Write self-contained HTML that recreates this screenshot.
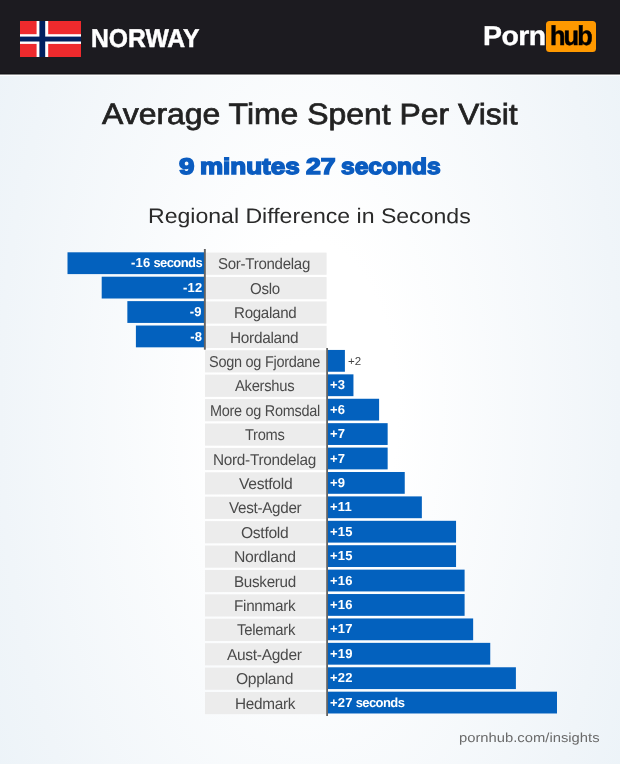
<!DOCTYPE html>
<html><head><meta charset="utf-8"><title>Norway - Average Time Spent Per Visit</title>
<style>
html,body{margin:0;padding:0;}
body{width:620px;height:764px;position:relative;overflow:hidden;font-family:"Liberation Sans",sans-serif;
background:radial-gradient(ellipse 310px 600px at 310px 410px, #ffffff 0%, #ffffff 28%, #f0f5f9 100%, #ecf3f8 120%);}
.flag{position:absolute;left:20px;top:21px;width:61px;height:36px;}
.country{position:absolute;transform-origin:0 50%;top:23px;font-weight:bold;font-size:25.8px;line-height:30px;color:#fff;white-space:nowrap;-webkit-text-stroke:0.5px #fff;}
.logo-a{position:absolute;transform-origin:0 50%;top:19.6px;font-weight:bold;font-size:27.2px;line-height:32px;color:#fff;white-space:nowrap;letter-spacing:-0.5px;-webkit-text-stroke:0.35px #fff;}
.logo-box{position:absolute;left:546.3px;top:20.8px;width:49.4px;height:31.6px;background:#ff9900;border-radius:3.5px;}
.logo-b{position:absolute;transform-origin:0 50%;top:19.6px;font-weight:bold;font-size:27.2px;line-height:32px;color:#000;white-space:nowrap;letter-spacing:-2px;-webkit-text-stroke:0.5px #000;}
.title{position:absolute;transform-origin:0 50%;top:98px;font-size:29.5px;line-height:32px;color:#222;white-space:nowrap;-webkit-text-stroke:0.7px #222;}
.subrow{position:absolute;left:0;top:0;width:620px;height:0;}
.sub{display:block;position:absolute;transform-origin:0 50%;top:153.2px;font-size:22.6px;line-height:28px;font-weight:bold;color:#0b5cc0;white-space:nowrap;-webkit-text-stroke:1.5px #0b5cc0;word-spacing:2px;}
.reg{position:absolute;transform-origin:0 50%;top:203px;font-size:21px;line-height:26px;color:#2a2a2a;white-space:nowrap;}
.lt{position:absolute;font-size:15.7px;line-height:24.8px;height:22px;color:#4a4a4a;white-space:nowrap;transform-origin:0 50%;letter-spacing:-0.3px;}
.shapes{position:absolute;left:0;top:0;}
.bt{position:absolute;transform:rotate(0.03deg);height:22px;color:#fff;font-weight:bold;font-size:13px;line-height:21.2px;white-space:nowrap;letter-spacing:0.25px;}
.bt .u{letter-spacing:-0.6px;}
.bt.neg{text-align:right;}
.bt.neg>span{padding-right:2.1px;}
.bt.neg .u{margin-right:0.7px;}
.bt.pos>span{padding-left:1.9px;}
.out{position:absolute;font-size:11.5px;line-height:23px;color:#444;}
.foot{position:absolute;transform-origin:0 50%;top:728.5px;font-size:13px;line-height:18px;color:#6a6a6a;white-space:nowrap;}
</style></head><body>
<svg class="shapes" width="620" height="80" viewBox="0 0 620 80"><rect width="620" height="74.6" fill="#1c1b20"/><rect y="73.4" width="620" height="1.2" fill="#121115"/><rect y="74.6" width="620" height="1.3" fill="#ffffff"/></svg>
<svg class="flag" viewBox="0 0 61 36"><rect width="61" height="36" fill="#ee2a2d"/><rect x="16.6" width="11.6" height="36" fill="#fff"/><rect y="13.2" width="61" height="9.7" fill="#fff"/><rect x="19.4" width="5.8" height="36" fill="#00205f"/><rect y="15.6" width="61" height="4.9" fill="#00205f"/></svg>
<div class="country" id="country" style="left:91.16px;transform:scaleX(0.9573) rotate(0.03deg)">NORWAY</div>
<div class="logo-a" id="logo-a" style="left:482.75px;transform:scaleX(1.0468) rotate(0.03deg)">Porn</div><div class="logo-box"></div><div class="logo-b" id="logo-b" style="left:549.99px;transform:scaleX(0.9330) rotate(0.03deg)">hub</div>
<div class="title" id="title" style="left:102.25px;transform:scaleX(1.0818) rotate(0.03deg)">Average Time Spent Per Visit</div>
<div class="subrow"><span class="sub" id="sub0" style="left:179.30px;transform:scaleX(1.2255) rotate(0.03deg)">9</span> <span class="sub" id="sub1" style="left:200.41px;transform:scaleX(1.1503) rotate(0.03deg)">minutes</span> <span class="sub" id="sub2" style="left:306.10px;transform:scaleX(1.1761) rotate(0.03deg)">27</span> <span class="sub" id="sub3" style="left:341.49px;transform:scaleX(1.0863) rotate(0.03deg)">seconds</span></div>
<div class="reg" id="reg" style="left:147.56px;transform:scaleX(1.0983) rotate(0.03deg)">Regional Difference in Seconds</div>
<svg class="shapes" width="620" height="764" viewBox="0 0 620 764"><rect x="205" y="252.60" width="121.6" height="22.2" fill="#ececec"/><rect x="67.50" y="252.30" width="136.80" height="21.8" fill="#0361be"/><rect x="205" y="277.01" width="121.6" height="22.2" fill="#ececec"/><rect x="101.70" y="276.71" width="102.60" height="21.8" fill="#0361be"/><rect x="205" y="301.42" width="121.6" height="22.2" fill="#ececec"/><rect x="127.35" y="301.12" width="76.95" height="21.8" fill="#0361be"/><rect x="205" y="325.83" width="121.6" height="22.2" fill="#ececec"/><rect x="135.90" y="325.53" width="68.40" height="21.8" fill="#0361be"/><rect x="205" y="350.24" width="121.6" height="22.2" fill="#ececec"/><rect x="327.5" y="349.94" width="17.40" height="21.8" fill="#0361be"/><rect x="205" y="374.65" width="121.6" height="22.2" fill="#ececec"/><rect x="327.5" y="374.35" width="25.95" height="21.8" fill="#0361be"/><rect x="205" y="399.06" width="121.6" height="22.2" fill="#ececec"/><rect x="327.5" y="398.76" width="51.60" height="21.8" fill="#0361be"/><rect x="205" y="423.47" width="121.6" height="22.2" fill="#ececec"/><rect x="327.5" y="423.17" width="60.15" height="21.8" fill="#0361be"/><rect x="205" y="447.88" width="121.6" height="22.2" fill="#ececec"/><rect x="327.5" y="447.58" width="60.15" height="21.8" fill="#0361be"/><rect x="205" y="472.29" width="121.6" height="22.2" fill="#ececec"/><rect x="327.5" y="471.99" width="77.25" height="21.8" fill="#0361be"/><rect x="205" y="496.70" width="121.6" height="22.2" fill="#ececec"/><rect x="327.5" y="496.40" width="94.35" height="21.8" fill="#0361be"/><rect x="205" y="521.11" width="121.6" height="22.2" fill="#ececec"/><rect x="327.5" y="520.81" width="128.55" height="21.8" fill="#0361be"/><rect x="205" y="545.52" width="121.6" height="22.2" fill="#ececec"/><rect x="327.5" y="545.22" width="128.55" height="21.8" fill="#0361be"/><rect x="205" y="569.93" width="121.6" height="22.2" fill="#ececec"/><rect x="327.5" y="569.63" width="137.10" height="21.8" fill="#0361be"/><rect x="205" y="594.34" width="121.6" height="22.2" fill="#ececec"/><rect x="327.5" y="594.04" width="137.10" height="21.8" fill="#0361be"/><rect x="205" y="618.75" width="121.6" height="22.2" fill="#ececec"/><rect x="327.5" y="618.45" width="145.65" height="21.8" fill="#0361be"/><rect x="205" y="643.16" width="121.6" height="22.2" fill="#ececec"/><rect x="327.5" y="642.86" width="162.75" height="21.8" fill="#0361be"/><rect x="205" y="667.57" width="121.6" height="22.2" fill="#ececec"/><rect x="327.5" y="667.27" width="188.40" height="21.8" fill="#0361be"/><rect x="205" y="691.98" width="121.6" height="22.2" fill="#ececec"/><rect x="327.5" y="691.68" width="229.50" height="21.8" fill="#0361be"/><rect x="203.9" y="249" width="1.9" height="100.7" fill="#636363"/><rect x="326.2" y="348" width="1.8" height="368" fill="#636363"/></svg>
<div class="lt" id="l0" style="top:252.30px;left:218.40px;transform:scaleX(0.9601) rotate(0.03deg)">Sor-Trondelag</div>
<div class="bt neg" style="top:252.30px;left:67.50px;width:136.80px"><span>-16<span class="u"> seconds</span></span></div>
<div class="lt" id="l1" style="top:276.71px;left:249.76px;transform:scaleX(0.9610) rotate(0.03deg)">Oslo</div>
<div class="bt neg" style="top:276.71px;left:101.70px;width:102.60px"><span>-12</span></div>
<div class="lt" id="l2" style="top:301.12px;left:233.56px;transform:scaleX(0.9640) rotate(0.03deg)">Rogaland</div>
<div class="bt neg" style="top:301.12px;left:127.35px;width:76.95px"><span>-9</span></div>
<div class="lt" id="l3" style="top:325.53px;left:229.89px;transform:scaleX(0.9810) rotate(0.03deg)">Hordaland</div>
<div class="bt neg" style="top:325.53px;left:135.90px;width:68.40px"><span>-8</span></div>
<div class="lt" id="l4" style="top:349.94px;left:209.12px;transform:scaleX(0.9251) rotate(0.03deg)">Sogn og Fjordane</div>
<div class="out" style="top:349.94px;left:348px">+2</div>
<div class="lt" id="l5" style="top:374.35px;left:234.98px;transform:scaleX(0.9421) rotate(0.03deg)">Akershus</div>
<div class="bt pos" style="top:374.35px;left:327.5px;width:26.15px"><span>+3</span></div>
<div class="lt" id="l6" style="top:398.76px;left:209.60px;transform:scaleX(0.9213) rotate(0.03deg)">More og Romsdal</div>
<div class="bt pos" style="top:398.76px;left:327.5px;width:51.80px"><span>+6</span></div>
<div class="lt" id="l7" style="top:423.17px;left:244.85px;transform:scaleX(0.9324) rotate(0.03deg)">Troms</div>
<div class="bt pos" style="top:423.17px;left:327.5px;width:60.35px"><span>+7</span></div>
<div class="lt" id="l8" style="top:447.58px;left:213.30px;transform:scaleX(0.9794) rotate(0.03deg)">Nord-Trondelag</div>
<div class="bt pos" style="top:447.58px;left:327.5px;width:60.35px"><span>+7</span></div>
<div class="lt" id="l9" style="top:471.99px;left:238.60px;transform:scaleX(0.9979) rotate(0.03deg)">Vestfold</div>
<div class="bt pos" style="top:471.99px;left:327.5px;width:77.45px"><span>+9</span></div>
<div class="lt" id="l10" style="top:496.40px;left:228.80px;transform:scaleX(0.9703) rotate(0.03deg)">Vest-Agder</div>
<div class="bt pos" style="top:496.40px;left:327.5px;width:94.55px"><span>+11</span></div>
<div class="lt" id="l11" style="top:520.81px;left:241.26px;transform:scaleX(0.9961) rotate(0.03deg)">Ostfold</div>
<div class="bt pos" style="top:520.81px;left:327.5px;width:128.75px"><span>+15</span></div>
<div class="lt" id="l12" style="top:545.22px;left:233.83px;transform:scaleX(1.0057) rotate(0.03deg)">Nordland</div>
<div class="bt pos" style="top:545.22px;left:327.5px;width:128.75px"><span>+15</span></div>
<div class="lt" id="l13" style="top:569.63px;left:234.04px;transform:scaleX(0.9701) rotate(0.03deg)">Buskerud</div>
<div class="bt pos" style="top:569.63px;left:327.5px;width:137.30px"><span>+16</span></div>
<div class="lt" id="l14" style="top:594.04px;left:234.24px;transform:scaleX(0.9741) rotate(0.03deg)">Finnmark</div>
<div class="bt pos" style="top:594.04px;left:327.5px;width:137.30px"><span>+16</span></div>
<div class="lt" id="l15" style="top:618.45px;left:236.62px;transform:scaleX(0.9496) rotate(0.03deg)">Telemark</div>
<div class="bt pos" style="top:618.45px;left:327.5px;width:145.85px"><span>+17</span></div>
<div class="lt" id="l16" style="top:642.86px;left:227.47px;transform:scaleX(0.9884) rotate(0.03deg)">Aust-Agder</div>
<div class="bt pos" style="top:642.86px;left:327.5px;width:162.95px"><span>+19</span></div>
<div class="lt" id="l17" style="top:667.27px;left:236.40px;transform:scaleX(0.9977) rotate(0.03deg)">Oppland</div>
<div class="bt pos" style="top:667.27px;left:327.5px;width:188.60px"><span>+22</span></div>
<div class="lt" id="l18" style="top:691.68px;left:234.91px;transform:scaleX(0.9778) rotate(0.03deg)">Hedmark</div>
<div class="bt pos" style="top:691.68px;left:327.5px;width:229.70px"><span>+27<span class="u"> seconds</span></span></div>
<div class="foot" id="foot" style="left:459.49px;transform:scaleX(1.1372) rotate(0.03deg)">pornhub.com/insights</div>
</body></html>
